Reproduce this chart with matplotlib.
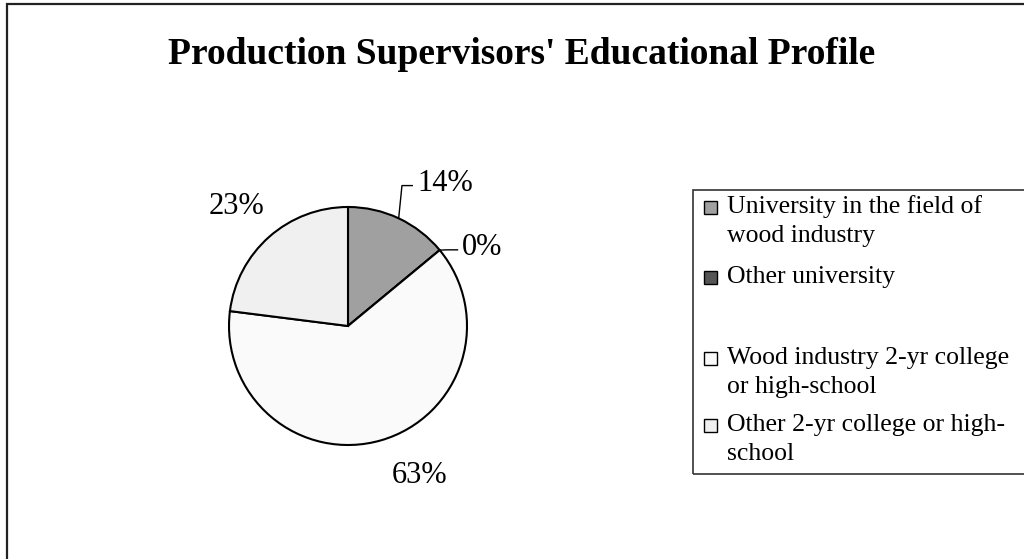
import matplotlib.pyplot as plt
from matplotlib.patches import Rectangle
import numpy as np

plt.rcParams['font.family'] = ['Liberation Serif', 'DejaVu Serif']

# --- data ---
categories = [
    "University in the field of\nwood industry",
    "Other university",
    "Wood industry 2-yr college\nor high-school",
    "Other 2-yr college or high-\nschool",
]
shares = [14, 0, 63, 23]
pct_labels = ["14%", "0%", "63%", "23%"]
colors = ["#a0a0a0", "#555555", "#fafafa", "#f0f0f0"]

W, H = 1024, 559
fig = plt.figure(figsize=(W / 100, H / 100), dpi=100)


def fx(x):
    return x / W


def fy(y):
    return 1 - y / H


# outer chart border (runs past the right / bottom edge)
fig.patches.append(Rectangle((fx(7), fy(600)), fx(1100) - fx(7), fy(4) - fy(600),
                             transform=fig.transFigure, fill=False, lw=1.6, ec="#222222"))

fig.text(fx(522), fy(55), "Production Supervisors' Educational Profile",
         ha="center", va="center", fontsize=27, weight="bold")

# --- pie ---
cx, cy, r = 348, 326, 119
ax = fig.add_axes([fx(cx - r), fy(cy + r), (2 * r) / W, (2 * r) / H])
wedges, _ = ax.pie(shares, colors=colors, startangle=90, counterclock=False,
                   wedgeprops=dict(edgecolor="black", linewidth=1.5))
ax.set_xlim(-1, 1)
ax.set_ylim(-1, 1)
ax.axis("off")

# label placement (axes units, radius = 1)
label_xy = [(0.58, 1.20), (0.96, 0.66), (0.60, -1.26), (-0.94, 1.00)]
label_ha = ["left", "left", "center", "center"]
leader = [True, True, False, False]

start = 90.0
for val, lab, (lx, ly), ha, lead in zip(shares, pct_labels, label_xy, label_ha, leader):
    mid = np.deg2rad(start - val / 100 * 360 / 2)
    start -= val / 100 * 360
    ax.text(lx, ly, lab, ha=ha, va="center", fontsize=22, clip_on=False)
    if lead:
        ex, ey = np.cos(mid), np.sin(mid)
        px = [ex, ex + 0.1 * abs(np.cos(mid)) ** 3 + 0.02, lx - 0.04]
        py = [ey, ly - 0.02, ly - 0.02]
        ax.plot(px, py, color="black", lw=1, clip_on=False)

# --- legend (drawn by hand to mimic the spreadsheet layout) ---
fig.patches.append(Rectangle((fx(693), fy(474)), fx(1100) - fx(693), fy(190) - fy(474),
                             transform=fig.transFigure, fill=False, lw=1.2, ec="#333333"))
entry_y = [207, 277, 358, 425]
line_gap = 29
for lab, col, y0 in zip(categories, colors, entry_y):
    fig.patches.append(Rectangle((fx(704), fy(y0 + 7)), 13 / W, 13 / H,
                                 transform=fig.transFigure, fc=col, ec="black", lw=1))
    for i, line in enumerate(lab.split("\n")):
        fig.text(fx(727), fy(y0 + i * line_gap), line, ha="left", va="center", fontsize=18.5)

fig.savefig("out.png", dpi=100)
